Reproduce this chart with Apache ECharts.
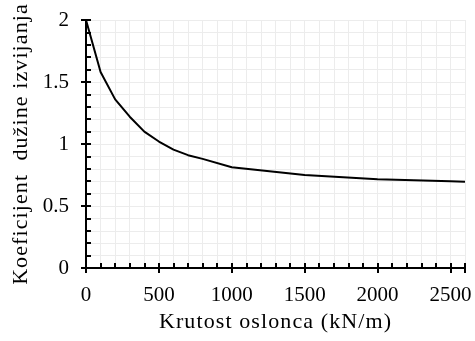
<!DOCTYPE html>
<html><head><meta charset="utf-8">
<script src="https://cdn.jsdelivr.net/npm/echarts@6/dist/echarts.min.js"></script>
<style>html,body{margin:0;padding:0;background:#fff}#c{width:475px;height:341px}</style>
</head><body><div id="c"></div>
<script>
const stiffness = [0, 100, 200, 300, 400, 500, 600, 700, 800, 1000, 1500, 2000, 2500, 2600];
const coefficient = [2.0, 1.58, 1.36, 1.22, 1.10, 1.02, 0.955, 0.91, 0.88, 0.812, 0.75, 0.715, 0.70, 0.696];
const xTicks = [0, 500, 1000, 1500, 2000, 2500];
const yTicks = [0, 0.5, 1, 1.5, 2];
const xName = 'Krutost oslonca (kN/m)';
const yName = 'Koeficijent  dužine izvijanja';

// widen axis-name lettering slightly (reference text is horizontally stretched)
(function () {
  const proto = CanvasRenderingContext2D.prototype;
  const orig = proto.fillText;
  proto.fillText = function (t, x, y, w) {
    if ('letterSpacing' in this) this.letterSpacing = /22px/.test(this.font) ? '1.1px' : '0px';
    return orig.call(this, t, x, y, w);
  };
})();

const font = 'Liberation Serif';
const chart = echarts.init(document.getElementById('c'));
chart.setOption({
  animation: false,
  grid: {left: 86, right: 10, top: 20, bottom: 73},
  xAxis: [{
    type: 'value', min: 0, max: 2600, interval: 500, position: 'bottom',
    name: xName, nameLocation: 'middle', nameGap: 41,
    nameTextStyle: {fontFamily: font, fontSize: 22, color: '#000'},
    axisLine: {show: true, onZero: false, lineStyle: {color: '#000', width: 2}},
    axisTick: {show: true, inside: false, length: 5, lineStyle: {color: '#000', width: 2}},
    axisLabel: {fontFamily: font, fontSize: 21, color: '#000', margin: 17,
      formatter: v => xTicks.includes(v) ? String(v) : ''},
    splitLine: {show: true, lineStyle: {color: '#d9d9d9', width: 1}}
  }, {
    type: 'value', min: 0, max: 2600, interval: 100, position: 'bottom',
    axisLine: {show: false}, axisLabel: {show: false},
    axisTick: {show: true, inside: true, length: 5, lineStyle: {color: '#000', width: 2}},
    splitLine: {show: true, lineStyle: {color: '#ececec', width: 1}}
  }],
  yAxis: [{
    type: 'value', min: 0, max: 2, interval: 0.5, position: 'left',
    name: yName, nameLocation: 'middle', nameGap: 53,
    nameTextStyle: {fontFamily: font, fontSize: 22, color: '#000'},
    axisLine: {show: true, onZero: false, lineStyle: {color: '#000', width: 2}},
    axisTick: {show: true, inside: false, length: 5, lineStyle: {color: '#000', width: 2}},
    axisLabel: {fontFamily: font, fontSize: 21, color: '#000', margin: 17,
      formatter: v => yTicks.includes(v) ? String(v) : ''},
    splitLine: {show: true, lineStyle: {color: '#d9d9d9', width: 1}}
  }, {
    type: 'value', min: 0, max: 2, interval: 0.1, position: 'left', offset: 0,
    axisLine: {show: false}, axisLabel: {show: false},
    axisTick: {show: true, inside: true, length: 5, lineStyle: {color: '#000', width: 2}},
    splitLine: {show: true, lineStyle: {color: '#ececec', width: 1}}
  }],
  series: [{
    type: 'line', xAxisIndex: 0, yAxisIndex: 0, smooth: false, symbol: 'none',
    lineStyle: {color: '#000', width: 2},
    data: stiffness.map((x, i) => [x, coefficient[i]])
  }]
});
</script></body></html>
